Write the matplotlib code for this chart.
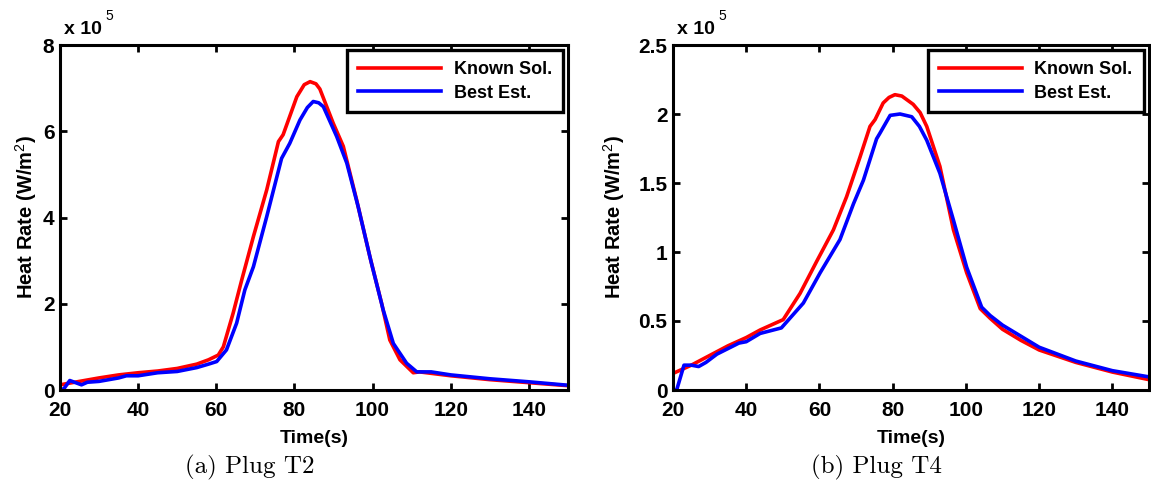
import numpy as np
import matplotlib
matplotlib.use("Agg")
from matplotlib import pyplot as plt

# Plug T2 (values in 1e5 W/m^2)
t2_known_t = [20, 25, 30, 35, 40, 45, 50, 55, 58, 60.5, 61.8, 64.3, 66.5, 69.5, 72.9, 75.9, 77.1, 80.6, 82.5, 84, 85.5, 86.5,
              89.9, 92.5, 95.9, 99.3, 102.3, 104.4, 107, 110.4, 112, 120, 130, 140, 150]
t2_known_q = [0.12, 0.20, 0.28, 0.35, 0.40, 0.44, 0.50, 0.60, 0.70, 0.81, 1.00, 1.78, 2.55, 3.56, 4.64, 5.76, 5.92, 6.80, 7.08, 7.15, 7.10, 6.98,
              6.19, 5.65, 4.41, 3.09, 2.01, 1.16, 0.70, 0.40, 0.42, 0.33, 0.24, 0.17, 0.10]
t2_best_t = [20, 21, 22.5, 24, 25.5, 27, 30, 35, 37, 40, 45, 50, 55, 58, 60.1, 62.6, 65.2, 67.3, 69.5, 72.9, 76.7,
             78.8, 81.4, 83.3, 84.8, 86.2, 87.4, 90.8, 93.4, 96.3, 99.7, 102.7, 105.3, 108.7, 111.3, 115, 120, 130, 140, 150]
t2_best_q = [0.00, 0.03, 0.22, 0.17, 0.12, 0.18, 0.20, 0.28, 0.33, 0.33, 0.40, 0.43, 0.52, 0.60, 0.66, 0.93, 1.55, 2.32, 2.86, 4.02, 5.37,
             5.72, 6.26, 6.55, 6.69, 6.66, 6.57, 5.88, 5.26, 4.25, 2.94, 1.86, 1.08, 0.62, 0.42, 0.42, 0.35, 0.26, 0.19, 0.11]

# Plug T4 (values in 1e5 W/m^2)
t4_known_t = [20, 25, 30, 35, 40, 43.8, 50.1, 54.7, 59.2, 63.8, 67.4, 71.1, 73.8, 75.2, 77.4, 79, 80.6, 82.5, 85.6,
              87.5, 89.3, 92.9, 96.6, 100.2, 103.9, 106.6, 110, 115, 120, 130, 140, 150]
t4_known_q = [0.12, 0.18, 0.25, 0.32, 0.38, 0.435, 0.51, 0.70, 0.93, 1.16, 1.40, 1.69, 1.91, 1.96, 2.08, 2.12, 2.14, 2.13, 2.07,
              2.01, 1.91, 1.62, 1.16, 0.85, 0.59, 0.52, 0.44, 0.36, 0.29, 0.20, 0.13, 0.075]
t4_best_t = [20, 21, 23, 25, 27, 29, 32, 35, 38, 40, 43.8, 49.6, 55.6, 60.2, 65.6, 69.3, 72, 75.6, 76.5, 79.3, 82,
             85.2, 87.3, 89.3, 92.9, 96.6, 100.2, 104.3, 106.6, 110, 120, 130, 140, 150]
t4_best_q = [0.00, 0.00, 0.18, 0.18, 0.17, 0.20, 0.26, 0.30, 0.34, 0.35, 0.41, 0.45, 0.63, 0.85, 1.09, 1.35, 1.52, 1.82, 1.86, 1.99, 2.00,
             1.98, 1.91, 1.81, 1.57, 1.23, 0.89, 0.60, 0.54, 0.47, 0.31, 0.21, 0.14, 0.095]

plt.rcParams['font.family'] = ['Liberation Sans', 'DejaVu Sans']
plt.rcParams['mathtext.fontset'] = 'custom'
plt.rcParams['mathtext.rm'] = 'Liberation Sans'
plt.rcParams['mathtext.bf'] = 'Liberation Sans:bold'

fig = plt.figure(figsize=(11.51, 5.0), dpi=100)
ax1 = fig.add_axes([60/1151, 0.22, 508/1151, 0.69])
ax2 = fig.add_axes([673/1151, 0.22, 476/1151, 0.69])


def drawPanel(ax, kt, kq, bt, bq, ymax, yticks, ylabels, ylab_x):
    ax.plot(kt, kq, color='#ff0000', lw=2.6, label='Known Sol.')
    ax.plot(bt, bq, color='#0000ff', lw=2.6, label='Best Est.')
    ax.set_xlim(20, 150)
    ax.set_ylim(0, ymax)
    ax.set_xticks(range(20, 151, 20))
    ax.set_yticks(yticks)
    ax.set_yticklabels(ylabels)
    ax.tick_params(direction='in', top=True, right=True, width=2, length=5,
                   labelsize=15)
    ax.tick_params(axis='x', pad=8)
    ax.tick_params(axis='y', pad=4)
    for lbl in ax.get_xticklabels() + ax.get_yticklabels():
        lbl.set_fontweight('bold')
    for s in ax.spines.values():
        s.set_linewidth(2.2)
    ax.set_xlabel('Time(s)', fontsize=14, fontweight='bold', labelpad=7)
    ax.set_ylabel(r'Heat Rate (W/m$^{2}$)', fontsize=14.5, fontweight='bold')
    ax.yaxis.set_label_coords(ylab_x, 0.5)
    ax.annotate('x 10', xy=(0, 1), xycoords='axes fraction', xytext=(3, 8),
                textcoords='offset points', fontsize=14, fontweight='bold',
                ha='left', va='baseline')
    ax.annotate('5', xy=(0, 1), xycoords='axes fraction', xytext=(33, 18),
                textcoords='offset points', fontsize=10,
                ha='left', va='baseline')
    leg = ax.legend(loc='upper right', fontsize=13, handlelength=4.6,
                    handletextpad=0.7, borderaxespad=0.3, fancybox=False,
                    framealpha=1, edgecolor='black', borderpad=0.6,
                    labelspacing=0.35)
    leg.get_frame().set_linewidth(2.4)
    for txt in leg.get_texts():
        txt.set_fontweight('bold')


drawPanel(ax1, t2_known_t, t2_known_q, t2_best_t, t2_best_q, 8,
          [0, 2, 4, 6, 8], ['0', '2', '4', '6', '8'], -0.041)
drawPanel(ax2, t4_known_t, t4_known_q, t4_best_t, t4_best_q, 2.5,
          [0, 0.5, 1, 1.5, 2, 2.5], ['0', '0.5', '1', '1.5', '2', '2.5'], -0.097)

fig.text(250/1151, 0.066, '(a) Plug T2', family='cmr10', fontsize=18, ha='center', va='center')
fig.text(876/1151, 0.066, '(b) Plug T4', family='cmr10', fontsize=18, ha='center', va='center')

fig.savefig('out.png', dpi=100)
